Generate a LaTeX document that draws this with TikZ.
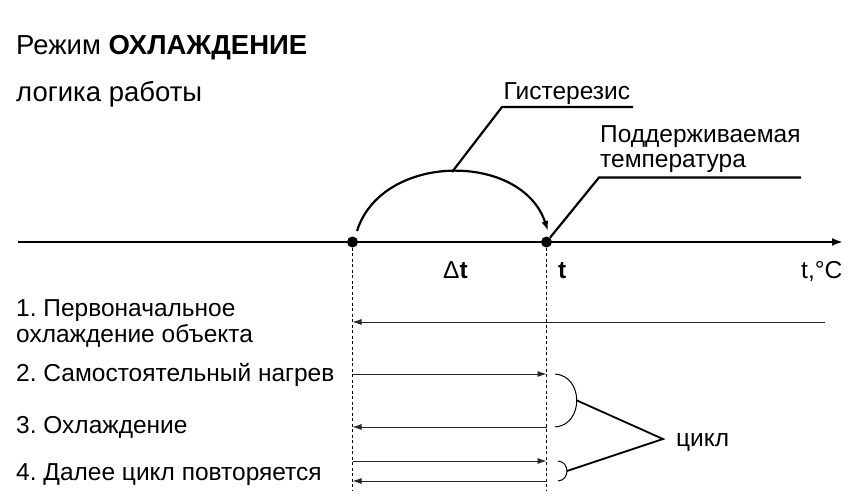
\documentclass[tikz,border=0pt]{standalone}
\usepackage{fontspec}
\setmainfont{Liberation Sans}
\usetikzlibrary{arrows.meta}
\frenchspacing

\tikzset{
	axis/.style={line width=2.6pt},
	leader/.style={line width=2.2pt},
	dot/.style={circle,fill,inner sep=0pt,minimum size=11pt},
	guide/.style={line width=0.8pt,dash pattern=on 3pt off 2.5pt},
	flow/.style={line width=0.9pt,black!85,-{Latex[length=9pt,width=6pt]}},
	lbl/.style={inner sep=0pt,anchor=base west,font=\fontsize{24.5}{27}\selectfont},
	big/.style={font=\fontsize{27.5}{30}\selectfont},
}

\begin{document}
\begin{tikzpicture}[x=1pt,y=-1pt]
	\useasboundingbox (0,0) rectangle (868,501);
	\node[lbl,big] (title) at (16,54) {Режим \textbf{ОХЛАЖДЕНИЕ}};
	\node[lbl,big] (subtitle) at (16,101) {логика работы};

	% temperature axis
	\coordinate (ax0) at (18,242);
	\coordinate (ax1) at (843,242);
	\draw[axis,-{Latex[length=11pt,width=8pt]}] (ax0) -- (ax1);
	\node[dot] (lo) at (352.5,242) {};
	\node[dot] (hi) at (546.5,242) {};
	\node[lbl] (dt) at (443,278) {Δ\textbf{t}};
	\node[lbl] (tset) at (558,278) {\textbf{t}};
	\node[lbl] (unit) at (801,278) {t,°C};

	% hysteresis arc and its leader
	\coordinate (h0) at (357,231);
	\coordinate (h1) at (548,231);
	\draw[leader,-{Latex[length=10pt,width=7pt]}] (h0) .. controls (382,152) and (522,152) .. (h1);
	\coordinate (htop) at (452,172);
	\coordinate (hbend) at (502,107);
	\coordinate (hend) at (633,107);
	\draw[leader] (htop) -- (hbend) -- (hend);
	\node[lbl] (hyst) at (503.5,99) {Гистерезис};

	% set point leader
	\coordinate (tbend) at (599,177.5);
	\coordinate (tend) at (801,177.5);
	\draw[leader] (hi) -- (tbend) -- (tend);
	\node[lbl,anchor=north west,align=left,font=\fontsize{24.5}{25}\selectfont] (setp) at (600,125.8) {Поддерживаемая\\температура};

	% dashed guides
	\coordinate (lofoot) at (352.5,491);
	\coordinate (hifoot) at (546.5,491);
	\draw[guide] (lo) -- (lofoot);
	\draw[guide] (hi) -- (hifoot);

	% steps
	\node[lbl,anchor=north west,align=left,font=\fontsize{24.5}{26.6}\selectfont] (s1) at (16,299.2) {1. Первоначальное\\охлаждение объекта};
	\node[lbl] (s2) at (16,381.7) {2. Самостоятельный нагрев};
	\node[lbl] (s3) at (16,433.3) {3. Охлаждение};
	\node[lbl] (s4) at (16,480) {4. Далее цикл повторяется};

	\coordinate (r1) at (825,322);
	\coordinate (l1) at (352.5,322);
	\foreach \n/\y in {2/374,3/427,4/461,5/481} {
		\coordinate (l\n) at (352.5,\y);
		\coordinate (r\n) at (546.5,\y);
	}
	\draw[flow] (r1) -- (l1);
	\draw[flow] (l2) -- (r2);
	\draw[flow] (r3) -- (l3);
	\draw[flow] (l4) -- (r4);
	\draw[flow] (r5) -- (l5);

	% cycle brackets
	\coordinate (b1) at (555,374);
	\coordinate (b2) at (555,427);
	\coordinate (b3) at (558,461);
	\coordinate (b4) at (558,481);
	\draw[line width=1pt] (b1) .. controls (584,376) and (584,425) .. (b2);
	\draw[line width=1pt] (b3) .. controls (570,462) and (570,480) .. (b4);
	\coordinate (k1) at (577,400.5);
	\coordinate (k2) at (567,471);
	\coordinate (cyc) at (663,439);
	\draw[line width=1.8pt] (k1) -- (cyc) -- (k2);
	\node[lbl] (cycle) at (676,446) {цикл};
\end{tikzpicture}
\end{document}
